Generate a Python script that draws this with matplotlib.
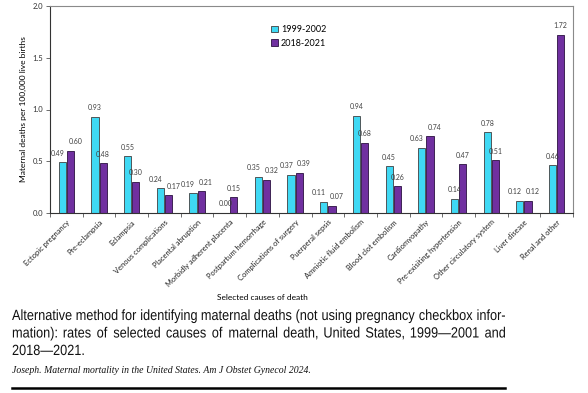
import numpy as np
import matplotlib
matplotlib.use("Agg")
import matplotlib.pyplot as plt
from matplotlib.lines import Line2D
from matplotlib.textpath import TextPath
from matplotlib.patches import PathPatch
from matplotlib.font_manager import FontProperties
from matplotlib.transforms import Affine2D

# data
causes = ["Ectopic pregnancy", "Pre-eclampsia", "Eclampsia", "Venous complications",
          "Placental abruption", "Morbidly adherent placenta", "Postpartum hemorrhage",
          "Complications of surgery", "Puerperal sepsis", "Amniotic fluid embolism",
          "Blood clot embolism", "Cardiomyopathy", "Pre-exisiting hypertension",
          "Other circulatory system", "Liver disease", "Renal and other"]
rates_1999 = [0.49, 0.93, 0.55, 0.24, 0.19, 0.00, 0.35, 0.37, 0.11, 0.94, 0.45, 0.63, 0.14, 0.78, 0.12, 0.46]
rates_2018 = [0.60, 0.48, 0.30, 0.17, 0.21, 0.15, 0.32, 0.39, 0.07, 0.68, 0.26, 0.74, 0.47, 0.51, 0.12, 1.72]
series_names = ["1999-2002", "2018-2021"]
y_ticks = [0.0, 0.5, 1.0, 1.5, 2.0]

caption_lines = ["Alternative method for identifying maternal deaths (not using pregnancy checkbox infor-",
                 "mation): rates of selected causes of maternal death, United States, 1999\u20142001 and",
                 "2018\u20142021."]
citation = "Joseph. Maternal mortality in the United States. Am J Obstet Gynecol 2024."

cyan = "#3fd9f4"
purple = "#7030a0"
edge = "#404040"
label_col = "#404040"
chart_font = ["Lato", "DejaVu Sans"]

W, H = 588, 393
fig = plt.figure(figsize=(W / 100, H / 100), dpi=100)
ax = fig.add_axes([50 / W, 1 - 213 / H, 523 / W, 207 / H])

x = np.arange(len(causes))
bw = 0.22
off = 0.125
b1 = ax.bar(x - off, rates_1999, bw, color=cyan, edgecolor=edge, linewidth=0.6, label=series_names[0])
b2 = ax.bar(x + off, rates_2018, bw, color=purple, edgecolor="#2a1040", linewidth=0.6, label=series_names[1])

# value labels, nudged apart when the two bars are close in height
for i in range(len(causes)):
    close = abs(rates_1999[i] - rates_2018[i]) < 0.12
    for rect, side in ((b1[i], -1), (b2[i], 1)):
        v = rect.get_height()
        dx = side * 3.5 if close else 0
        ax.annotate(f"{v:.2f}", (rect.get_x() + rect.get_width() / 2, v),
                    xytext=(dx, 4), textcoords="offset points", ha="center", va="bottom",
                    fontsize=5, color=label_col, family=chart_font)

ax.set_xlim(-0.5, len(causes) - 0.5)
ax.set_ylim(0, 2.0)
ax.set_yticks(y_ticks)
ax.set_yticklabels([f"{t:.1f}" for t in y_ticks], fontsize=5.5, family=chart_font, color="#333333")
ax.tick_params(axis="y", length=3, width=0.6, color="#555555", pad=2)

ax.set_xticks(x)
ax.set_xticklabels(causes, rotation=45, ha="right", rotation_mode="anchor",
                   fontsize=5.4, family=chart_font, color="#222222")
ax.tick_params(axis="x", which="major", length=0, pad=4)
ax.set_xticks(np.arange(-0.5, len(causes), 1), minor=True)
ax.tick_params(axis="x", which="minor", length=3, width=0.6, color="#555555")

for s in ax.spines.values():
    s.set_color("#8a8a8a")
    s.set_linewidth(0.8)
ax.spines["left"].set_color("#333333")
ax.spines["bottom"].set_color("#333333")

ax.set_ylabel("Maternal deaths per 100,000 live births", fontsize=6, family=chart_font, labelpad=4)
fig.text(262 / W, 1 - 297 / H, "Selected causes of death", ha="center", va="center",
         fontsize=6, family=chart_font)

handles = [plt.Rectangle((0, 0), 1, 1, facecolor=cyan, edgecolor=edge, linewidth=0.6),
           plt.Rectangle((0, 0), 1, 1, facecolor=purple, edgecolor="#2a1040", linewidth=0.6)]
ax.legend(handles, series_names, loc="upper left", bbox_to_anchor=(263 / W, 1 - 17 / H),
          bbox_transform=fig.transFigure, frameon=False,
          prop={"family": chart_font, "size": 6.5}, handlelength=0.8, handleheight=0.8,
          handletextpad=0.3, labelspacing=0.5)

# caption: narrow, justified sans text drawn as squeezed paths (pixel coords)
cap_prop = FontProperties(family=["Liberation Sans", "DejaVu Sans"])
cap_size = 14.8
squeeze = 0.86
x0, x1 = 12, 505
baselines = [320, 337.5, 355]


def word_path(s):
    tp = TextPath((0, 0), s, size=cap_size, prop=cap_prop)
    return tp, tp.get_extents().x1 * squeeze


for i, line in enumerate(caption_lines):
    yb = H - baselines[i]
    words = line.split()
    items = [word_path(w) for w in words]
    if i == len(caption_lines) - 1:
        gap = cap_size * 0.278 * squeeze
    else:
        gap = (x1 - x0 - sum(w for _, w in items)) / (len(words) - 1)
    pos = x0
    for tp, w in items:
        tr = Affine2D().scale(squeeze, 1).translate(pos, yb)
        fig.add_artist(PathPatch(tp, transform=tr, facecolor="#111111", edgecolor="none"))
        pos += w + gap

fig.text(x0 / W, 1 - 373 / H, citation, fontsize=7, style="italic",
         family=["Liberation Serif", "DejaVu Serif"], va="baseline", color="#111111")
fig.add_artist(Line2D([x0 / W, x1 / W], [1 - 388 / H, 1 - 388 / H], color="black", linewidth=1.8))

fig.savefig("out.png", dpi=100)
